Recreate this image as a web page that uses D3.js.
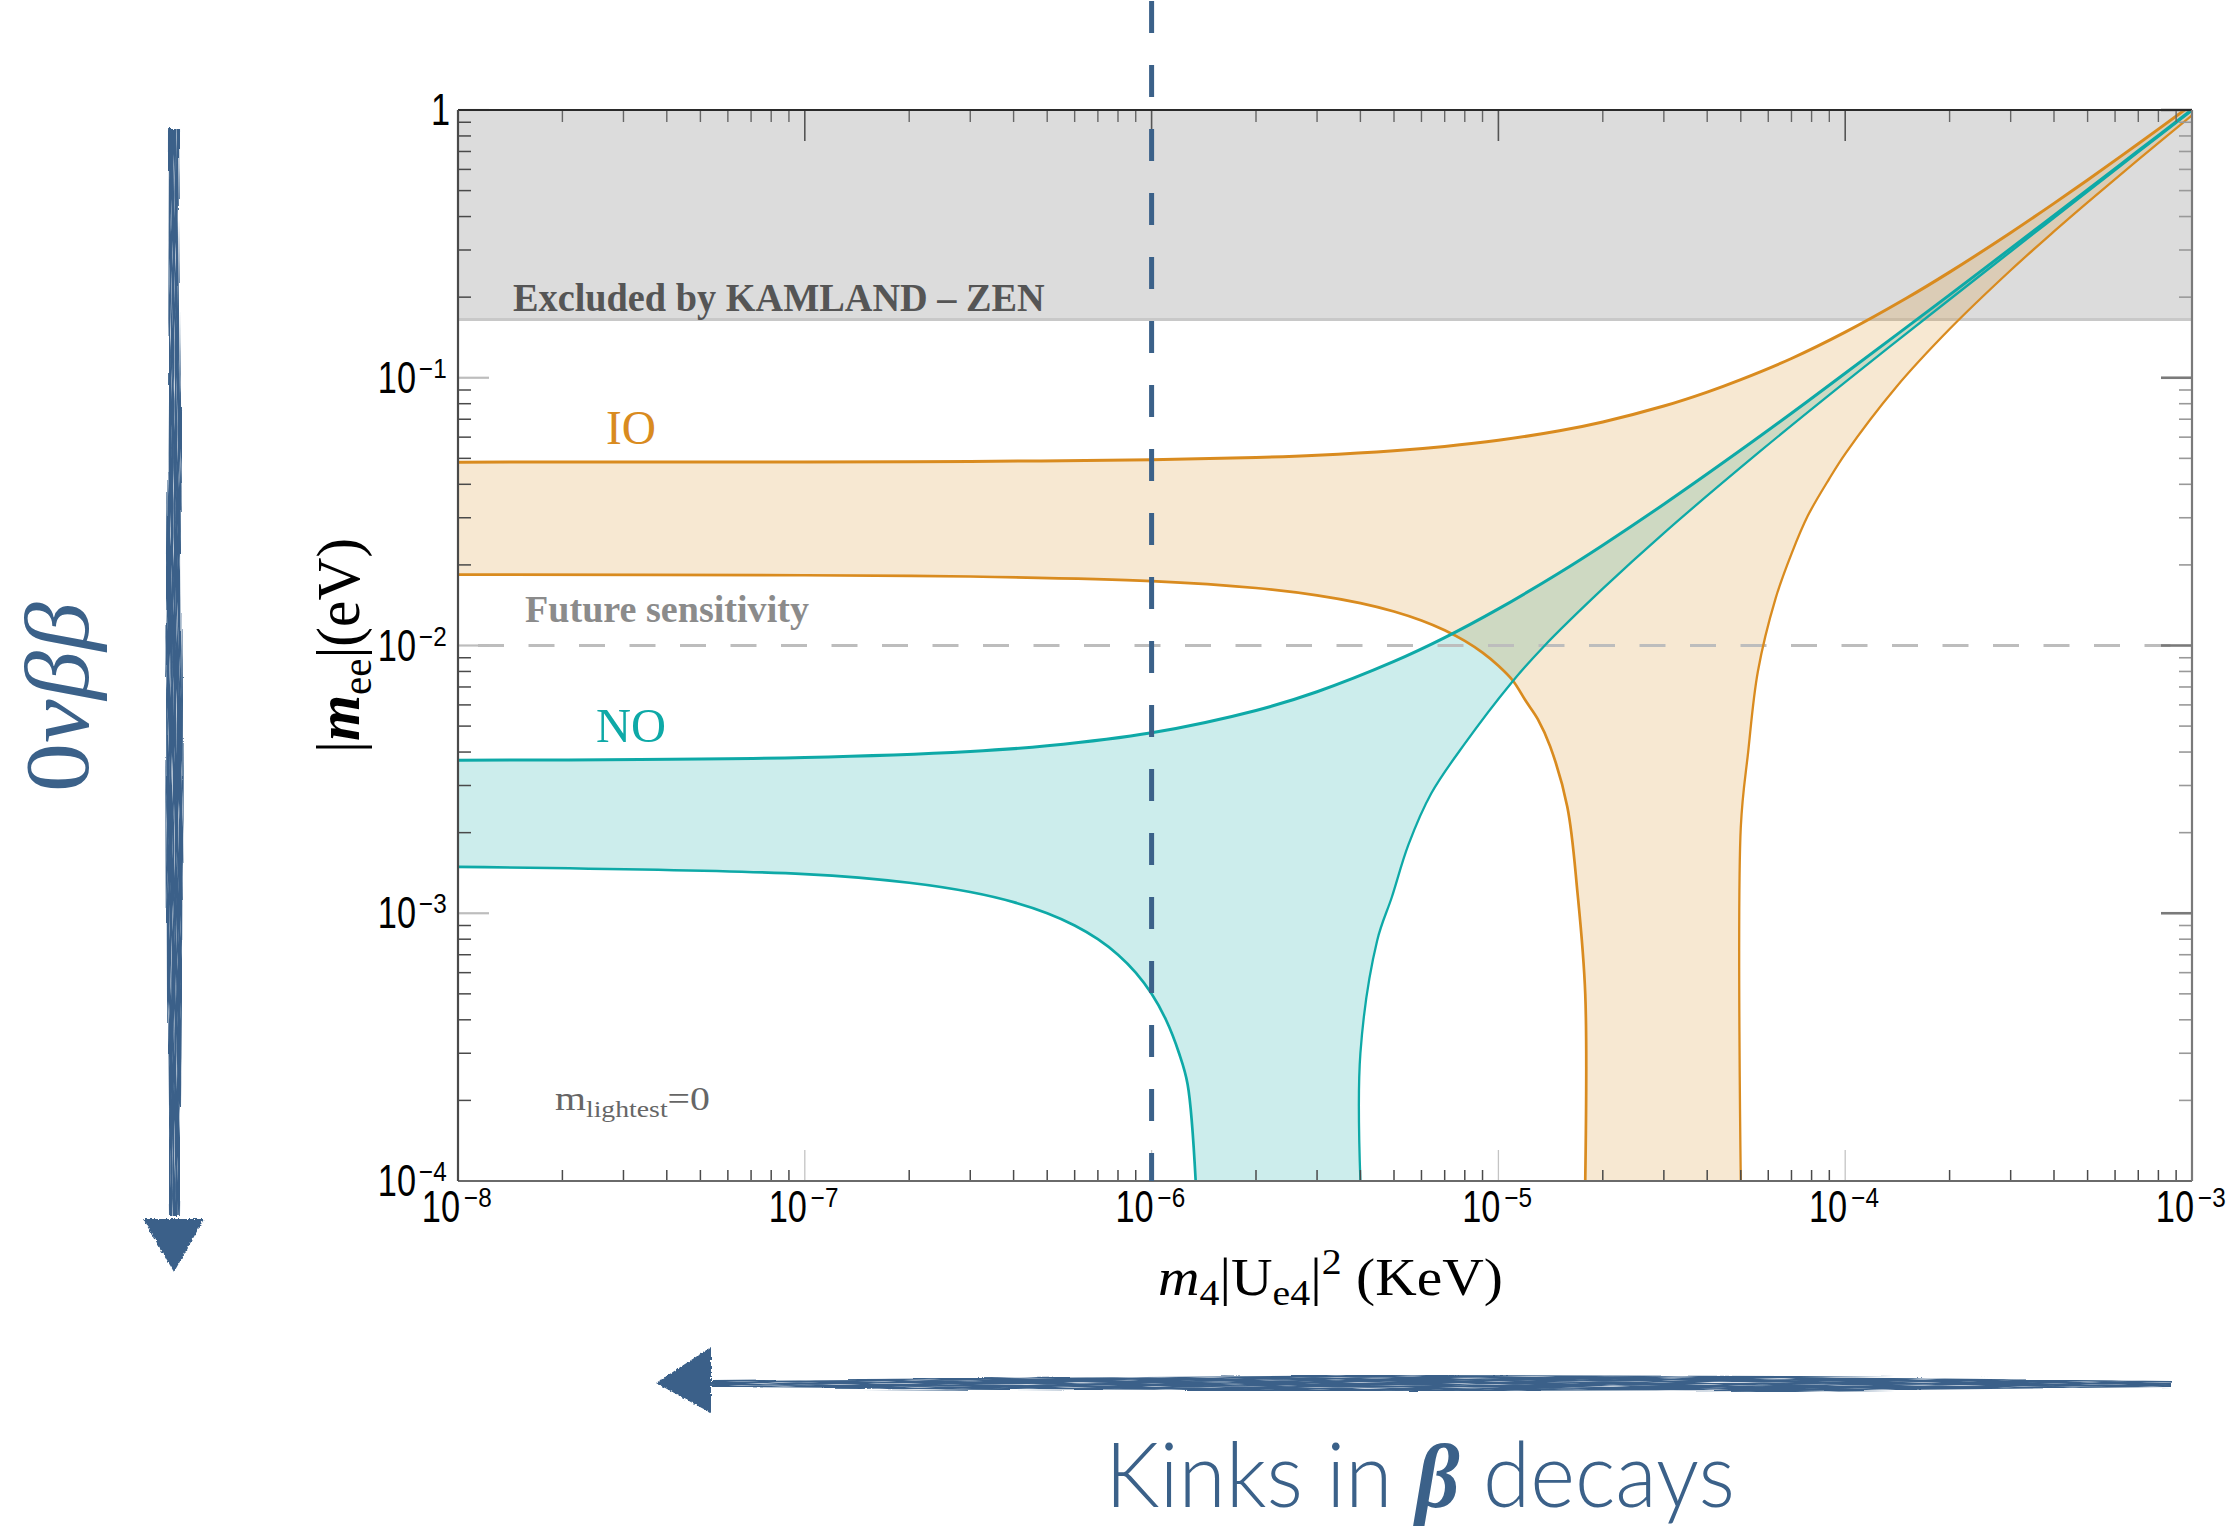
<!DOCTYPE html>
<html>
<head>
<meta charset="utf-8">
<script src="https://cdn.jsdelivr.net/npm/d3@7"></script>
<style>
  html, body { margin: 0; padding: 0; background: #ffffff; }
  svg { display: block; }
</style>
</head>
<body>
<svg id="chart" width="2236" height="1529"></svg>
<script>
// Effective Majorana mass |m_ee| (eV) versus the sterile contribution m4|Ue4|^2 (keV)

// Axis ticks
const xMajorTicks = [1e-8, 1e-7, 1e-6, 1e-5, 1e-4, 1e-3];
const xTickExponents = ["\u22128", "\u22127", "\u22126", "\u22125", "\u22124", "\u22123"];
const yMajorTicks = [1, 1e-1, 1e-2, 1e-3, 1e-4];
const yTickExponents = [null, "\u22121", "\u22122", "\u22123", "\u22124"];

// Reference levels
const kamlandLimit = 0.165;      // upper edge of allowed region (eV)
const futureSensitivity = 0.01;  // projected reach (eV)
const markedMass = 1e-6;         // highlighted m4|Ue4|^2 value (keV)

// Inverted ordering band: [m4|Ue4|^2 (keV), |m_ee| (eV)]
const ioUpper = [
  [1e-8, 0.0484], [1e-7, 0.0485], [3e-7, 0.0487], [1e-6, 0.0494], [2e-6, 0.0504],
  [3e-6, 0.0514], [5e-6, 0.0534], [7e-6, 0.0554], [1e-5, 0.0584], [1.5e-5, 0.0634],
  [2e-5, 0.0684], [3e-5, 0.0784], [4e-5, 0.0884], [5e-5, 0.0984], [7e-5, 0.118],
  [1e-4, 0.148], [1.5e-4, 0.198], [2e-4, 0.248], [3e-4, 0.348], [4e-4, 0.448],
  [5e-4, 0.548], [7e-4, 0.748], [1e-3, 1.048]
];
const ioLowerLeft = [
  [1e-8, 0.0184], [1e-7, 0.0183], [3e-7, 0.0181], [1e-6, 0.0174], [2e-6, 0.0164],
  [3e-6, 0.0154], [4e-6, 0.0144], [5e-6, 0.0134], [6e-6, 0.0124], [7e-6, 0.0114],
  [8e-6, 0.0104], [9e-6, 0.0094], [1e-5, 0.0084], [1.1e-5, 0.0074], [1.2e-5, 0.0062],
  [1.3e-5, 0.0053], [1.41e-5, 0.0042], [1.58e-5, 0.0025], [1.69e-5, 0.0012],
  [1.78e-5, 0.0005], [1.78e-5, 0.0001]
];
const ioLowerRight = [
  [5.0e-5, 0.0001], [5.0e-5, 0.0021], [5.25e-5, 0.0040], [5.6e-5, 0.0080],
  [6.3e-5, 0.0150], [7e-5, 0.0220], [7.8e-5, 0.0305], [9e-5, 0.0420], [1e-4, 0.0520],
  [1.4e-4, 0.0920], [2e-4, 0.152], [3e-4, 0.252], [4e-4, 0.352], [5e-4, 0.452],
  [7e-4, 0.652], [1e-3, 0.955]
];

// Normal ordering band
const noUpper = [
  [1e-8, 0.00373], [1e-7, 0.00382], [3e-7, 0.00402], [5e-7, 0.00422], [1e-6, 0.00472],
  [2e-6, 0.00572], [3e-6, 0.00672], [5e-6, 0.00872], [7e-6, 0.0107], [1e-5, 0.0137],
  [1.5e-5, 0.0187], [2e-5, 0.0237], [3e-5, 0.0337], [5e-5, 0.0537], [7e-5, 0.0737],
  [1e-4, 0.104], [2e-4, 0.204], [3e-4, 0.304], [5e-4, 0.504], [7e-4, 0.704], [1e-3, 1.004]
];
const noLowerLeft = [
  [1e-8, 0.00149], [1e-7, 0.00140], [2e-7, 0.00130], [3e-7, 0.00120], [4e-7, 0.00110],
  [5e-7, 0.00100], [6e-7, 0.00090], [7e-7, 0.00080], [8e-7, 0.00070], [9e-7, 0.00060],
  [1e-6, 0.00050], [1.1e-6, 0.00040], [1.2e-6, 0.00030], [1.27e-6, 0.00023],
  [1.34e-6, 0.0001]
];
const noLowerRight = [
  [4.0e-6, 0.0001], [4.0e-6, 0.0003], [4.47e-6, 0.00079], [4.93e-6, 0.00115],
  [5.5e-6, 0.0018], [6.4e-6, 0.0028], [8e-6, 0.0043], [1.085e-5, 0.0072],
  [1.35e-5, 0.0099], [2e-5, 0.0163], [3e-5, 0.0263], [5.7e-5, 0.0533], [1e-4, 0.0963],
  [2e-4, 0.196], [3e-4, 0.296], [5e-4, 0.496], [7e-4, 0.696], [1e-3, 0.996]
];

// ---------------------------------------------------------------------------
const ORANGE = "#d98b1f";
const TEAL = "#0ea9a7";
const BLUE = "#3b6189";
const plot = { left: 458, right: 2192, top: 110, bottom: 1181 };

const svg = d3.select("#chart");
const x = d3.scaleLog().domain([1e-8, 1e-3]).range([plot.left, plot.right]);
const y = d3.scaleLog().domain([1e-4, 1]).range([plot.bottom, plot.top]);

const defs = svg.append("defs");
defs.html(`
  <filter id="brushH" x="-2%" y="-150%" width="104%" height="400%">
    <feTurbulence type="fractalNoise" baseFrequency="0.004 0.22" numOctaves="3" seed="7" result="n"/>
    <feDisplacementMap in="SourceGraphic" in2="n" scale="6" xChannelSelector="R" yChannelSelector="G" result="d"/>
    <feTurbulence type="fractalNoise" baseFrequency="0.02 0.9" numOctaves="2" seed="2" result="s"/>
    <feColorMatrix in="s" type="matrix" values="0 0 0 0 0  0 0 0 0 0  0 0 0 0 0  0 0 0 -3 2.7" result="m"/>
    <feComposite in="d" in2="m" operator="in"/>
  </filter>
  <filter id="brushV" x="-150%" y="-2%" width="400%" height="104%">
    <feTurbulence type="fractalNoise" baseFrequency="0.22 0.004" numOctaves="3" seed="5" result="n"/>
    <feDisplacementMap in="SourceGraphic" in2="n" scale="6" xChannelSelector="R" yChannelSelector="G" result="d"/>
    <feTurbulence type="fractalNoise" baseFrequency="0.9 0.02" numOctaves="2" seed="4" result="s"/>
    <feColorMatrix in="s" type="matrix" values="0 0 0 0 0  0 0 0 0 0  0 0 0 0 0  0 0 0 -3 2.7" result="m"/>
    <feComposite in="d" in2="m" operator="in"/>
  </filter>
  <filter id="roughHead" x="-30%" y="-30%" width="160%" height="160%">
    <feTurbulence type="fractalNoise" baseFrequency="0.35" numOctaves="2" seed="9" result="n"/>
    <feDisplacementMap in="SourceGraphic" in2="n" scale="4" xChannelSelector="R" yChannelSelector="G"/>
  </filter>
  <clipPath id="plotClip">
    <rect x="${plot.left}" y="${plot.top}" width="${plot.right - plot.left}" height="${plot.bottom - plot.top}"/>
  </clipPath>
`);

const line = d3.line().x(d => x(d[0])).y(d => y(d[1])).curve(d3.curveCatmullRom.alpha(0.5));
// Closed outline made of several smoothed edges joined end to end
const outline = parts => parts.map((p, i) => {
  const d = line(p);
  return i === 0 ? d : "L" + d.slice(1);
}).join("") + "Z";

// Excluded region
svg.append("rect")
  .attr("x", x(1e-8)).attr("y", y(1))
  .attr("width", x(1e-3) - x(1e-8)).attr("height", y(kamlandLimit) - y(1))
  .attr("fill", "#dcdcdc");
svg.append("line")
  .attr("x1", x(1e-8)).attr("x2", x(1e-3))
  .attr("y1", y(kamlandLimit)).attr("y2", y(kamlandLimit))
  .attr("stroke", "#c8c8c8").attr("stroke-width", 3);

const plotArea = svg.append("g").attr("clip-path", "url(#plotClip)");

// Filled bands
const rev = a => a.slice().reverse();
plotArea.append("path").attr("d", outline([noUpper, rev(noLowerRight), rev(noLowerLeft)]))
  .attr("fill", TEAL).attr("fill-opacity", 0.21);
plotArea.append("path").attr("d", outline([ioUpper, rev(ioLowerRight), rev(ioLowerLeft)]))
  .attr("fill", ORANGE).attr("fill-opacity", 0.2);

// Future sensitivity
plotArea.append("line")
  .attr("x1", x(1e-8) + 20).attr("x2", x(1e-3))
  .attr("y1", y(futureSensitivity)).attr("y2", y(futureSensitivity))
  .attr("stroke", "#bdbdbd").attr("stroke-width", 3)
  .attr("stroke-dasharray", "26,24.5");

// Band edges
[[ioUpper, ORANGE, 3], [ioLowerLeft, ORANGE, 2.7], [ioLowerRight, ORANGE, 2.3],
 [noUpper, TEAL, 3], [noLowerLeft, TEAL, 2.7], [noLowerRight, TEAL, 2.3]]
  .forEach(([data, color, w]) => {
    plotArea.append("path").attr("d", line(data))
      .attr("fill", "none").attr("stroke", color).attr("stroke-width", w)
      .attr("stroke-linejoin", "round");
  });

// Frame ticks
const isMajor = t => Math.abs(Math.log10(t) - Math.round(Math.log10(t))) < 1e-9;
const ticks = svg.append("g");
x.ticks().forEach(t => {
  const px = x(t), major = isMajor(t);
  if (t <= 1e-8 || t >= 1e-3) return;
  ticks.append("line").attr("x1", px).attr("x2", px)
    .attr("y1", plot.bottom).attr("y2", plot.bottom - (major ? 31 : 11))
    .attr("stroke", major ? "#c4c4c4" : "#4a4a4a").attr("stroke-width", major ? 1.3 : 1.5);
  ticks.append("line").attr("x1", px).attr("x2", px)
    .attr("y1", plot.top).attr("y2", plot.top + (major ? 31 : 12))
    .attr("stroke", major ? "#555" : "#666").attr("stroke-width", major ? 1.6 : 1.4);
});
y.ticks().forEach(t => {
  const py = y(t), major = isMajor(t);
  if (t <= 1e-4) return;
  ticks.append("line").attr("x1", plot.left).attr("x2", plot.left + (major ? 31 : 13))
    .attr("y1", py).attr("y2", py)
    .attr("stroke", major ? "#bdbdbd" : "#4a4a4a").attr("stroke-width", major ? 2.2 : 1.5);
  ticks.append("line").attr("x1", plot.right).attr("x2", plot.right - (major ? 31 : 13))
    .attr("y1", py).attr("y2", py)
    .attr("stroke", major ? "#7a7a7a" : "#999").attr("stroke-width", major ? 2.6 : 1.6);
});

// Frame
const frame = svg.append("g").attr("stroke-width", 2.2);
frame.append("line").attr("x1", plot.left).attr("x2", plot.right).attr("y1", plot.top).attr("y2", plot.top).attr("stroke", "#2a2a2a");
frame.append("line").attr("x1", plot.left).attr("x2", plot.right).attr("y1", plot.bottom).attr("y2", plot.bottom).attr("stroke", "#6a6a6a");
frame.append("line").attr("x1", plot.left).attr("x2", plot.left).attr("y1", plot.top).attr("y2", plot.bottom).attr("stroke", "#4a4a4a");
frame.append("line").attr("x1", plot.right).attr("x2", plot.right).attr("y1", plot.top).attr("y2", plot.bottom).attr("stroke", "#7a7a7a");

// Tick labels
const tickFont = "'Liberation Sans', Arial, sans-serif";
const labels = svg.append("g").attr("font-family", tickFont).attr("fill", "#000");
xMajorTicks.forEach((t, i) => {
  const px = x(t);
  labels.append("text").text("10")
    .attr("text-anchor", "end").attr("font-size", 44)
    .attr("transform", `translate(${px + 2},${plot.bottom + 41}) scale(0.78,1)`);
  labels.append("text").text(xTickExponents[i])
    .attr("text-anchor", "start").attr("font-size", 27)
    .attr("transform", `translate(${px + 6},${plot.bottom + 26}) scale(0.9,1)`);
});
yMajorTicks.forEach((t, i) => {
  const py = y(t);
  if (yTickExponents[i] === null) {
    labels.append("text").text("1")
      .attr("text-anchor", "end").attr("font-size", 44)
      .attr("transform", `translate(${plot.left - 8},${py + 15}) scale(0.78,1)`);
    return;
  }
  labels.append("text").text("10")
    .attr("text-anchor", "end").attr("font-size", 44)
    .attr("transform", `translate(${plot.left - 42},${py + 15}) scale(0.78,1)`);
  labels.append("text").text(yTickExponents[i])
    .attr("text-anchor", "start").attr("font-size", 27)
    .attr("transform", `translate(${plot.left - 39},${py}) scale(0.9,1)`);
});

// Places a text so it starts at (x0, baseline) and spans the given width
function fitText(sel, x0, baseline, width, rotated) {
  const bb = sel.node().getBBox();
  const s = width / bb.width;
  if (rotated) {
    sel.attr("transform", `translate(${x0},${baseline}) rotate(-90) translate(${-bb.x * s},0) scale(${s},1)`);
  } else {
    sel.attr("transform", `translate(${x0 - bb.x * s},${baseline}) scale(${s},1)`);
  }
}

const serif = "'Liberation Serif', 'Times New Roman', serif";

// Axis titles
const xTitle = svg.append("text").attr("font-family", serif).attr("font-size", 52).attr("fill", "#000");
xTitle.append("tspan").attr("font-style", "italic").text("m");
xTitle.append("tspan").attr("font-size", 36).attr("dy", 10).text("4");
xTitle.append("tspan").attr("dy", -10).text("|U");
xTitle.append("tspan").attr("font-size", 36).attr("dy", 10).text("e4");
xTitle.append("tspan").attr("dy", -10).text("|");
xTitle.append("tspan").attr("font-size", 36).attr("dy", -21).text("2");
xTitle.append("tspan").attr("dy", 21).text("\u00a0(KeV)");
fitText(xTitle, 1158, 1295, 345);

const yTitle = svg.append("text").attr("font-family", serif).attr("font-size", 62).attr("fill", "#000");
yTitle.append("tspan").text("|");
yTitle.append("tspan").attr("font-style", "italic").attr("font-weight", "bold").text("m");
yTitle.append("tspan").attr("font-size", 43).attr("dy", 12).text("ee");
yTitle.append("tspan").attr("dy", -12).text("|(eV)");
fitText(yTitle, 359, 753, 215, true);

// In-plot annotations
const excluded = svg.append("text").attr("font-family", serif).attr("font-weight", "bold")
  .attr("font-size", 40).attr("fill", "#555").text("Excluded by KAMLAND \u2013 ZEN");
fitText(excluded, 513, 311, 532);

const future = svg.append("text").attr("font-family", serif).attr("font-weight", "bold")
  .attr("font-size", 38).attr("fill", "#8b8b8b").text("Future sensitivity");
fitText(future, 525, 622, 284);

const ioLabel = svg.append("text").attr("font-family", serif).attr("font-size", 48)
  .attr("fill", ORANGE).text("IO");
fitText(ioLabel, 606, 444, 50);

const noLabel = svg.append("text").attr("font-family", serif).attr("font-size", 48)
  .attr("fill", TEAL).text("NO");
fitText(noLabel, 596, 742, 70);

const lightest = svg.append("text").attr("font-family", serif).attr("font-size", 33).attr("fill", "#666");
lightest.append("tspan").text("m");
lightest.append("tspan").attr("font-size", 23).attr("dy", 7).text("lightest");
lightest.append("tspan").attr("dy", -7).text("=0");
fitText(lightest, 555, 1110, 155);

// Highlighted mass value
svg.append("line")
  .attr("x1", x(markedMass)).attr("x2", x(markedMass))
  .attr("y1", y(1) - 109).attr("y2", y(1e-4))
  .attr("stroke", BLUE).attr("stroke-width", 5)
  .attr("stroke-dasharray", "32,32");

// Side arrows and captions
const arrows = svg.append("g").attr("fill", BLUE);
arrows.append("path")
  .attr("d", "M169,128 L168,400 L166,700 L167,1000 L169,1216 L180,1216 L182,1000 L183,700 L181,400 L178,128 Z")
  .attr("filter", "url(#brushV)");
arrows.append("path")
  .attr("d", "M143,1219 L204,1219 L174,1272 Z")
  .attr("filter", "url(#roughHead)");
arrows.append("path")
  .attr("d", "M712,1380 L1000,1378 L1400,1375 L1800,1376 L2172,1380 L2172,1387 L1800,1391 L1400,1392 L1000,1390 L712,1388 Z")
  .attr("filter", "url(#brushH)");
arrows.append("path")
  .attr("d", "M711,1347 L711,1413 L656,1383 Z")
  .attr("filter", "url(#roughHead)");

const zeroNu = svg.append("text").attr("font-family", serif)
  .attr("font-size", 92).attr("fill", BLUE);
zeroNu.append("tspan").text("0");
zeroNu.append("tspan").attr("font-style", "italic").text("\u03bd\u03b2\u03b2");
fitText(zeroNu, 88, 792, 190, true);

const kinks = svg.append("text").attr("font-family", "Lato, 'Open Sans', sans-serif")
  .attr("font-weight", 300).attr("font-size", 90).attr("fill", BLUE);
kinks.append("tspan").text("Kinks in ");
kinks.append("tspan").attr("font-family", serif).attr("font-style", "italic").attr("font-weight", "bold").text("\u03b2");
kinks.append("tspan").text(" decays");
fitText(kinks, 1105, 1507, 630);
</script>
</body>
</html>
